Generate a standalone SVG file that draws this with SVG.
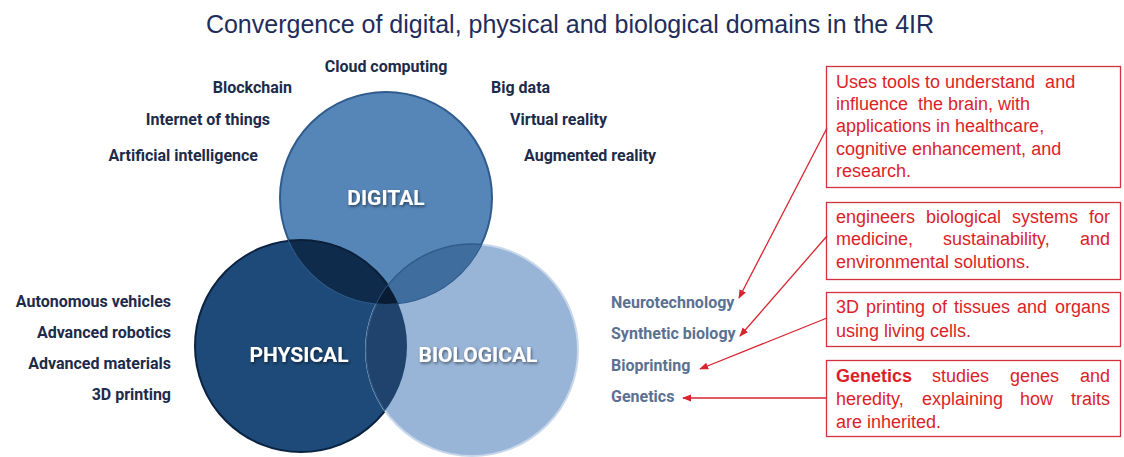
<svg xmlns="http://www.w3.org/2000/svg" width="1124" height="457" viewBox="0 0 1124 457">
<style>
.title{font-family:"Liberation Sans",Arial,sans-serif;font-size:25px;fill:#1f2d5c}
.lbl{font-family:Roboto,"Liberation Sans",sans-serif;font-weight:bold;font-size:16px;fill:#1d2b4a}
.bl{font-family:Roboto,"Liberation Sans",sans-serif;font-weight:bold;font-size:16px;fill:#5b7192}
.big{font-family:Roboto,"Liberation Sans",sans-serif;font-weight:bold;font-size:21px;fill:#ffffff;text-anchor:middle}
.box{fill:#ffffff;stroke:#d2323c;stroke-width:1.3}
.rt{font-family:"Liberation Sans",Arial,sans-serif;font-size:18px;fill:#dc1e28}
.rb{font-weight:bold}
.arr{stroke:#d8242e;stroke-width:1.3;fill:none;marker-end:url(#ah)}
</style>
<defs>
<marker id="ah" viewBox="0 0 10 10" refX="9" refY="5" markerWidth="9" markerHeight="9" markerUnits="userSpaceOnUse" orient="auto">
<path d="M0,1 L10,5 L0,9 z" fill="#d8242e"/>
</marker>
<filter id="sh" x="-20%" y="-40%" width="140%" height="180%">
<feDropShadow dx="1" dy="1.5" stdDeviation="1.5" flood-color="#000" flood-opacity="0.55"/>
</filter>
<clipPath id="cD"><circle cx="386" cy="198" r="106"/></clipPath>
<clipPath id="cP"><circle cx="301" cy="346" r="106"/></clipPath>
<clipPath id="cB"><circle cx="472" cy="350" r="106"/></clipPath>
</defs>

<text class="title" x="570" y="33" text-anchor="middle">Convergence of digital, physical and biological domains in the 4IR</text>

<g id="venn">
<circle id="physical" cx="301" cy="346" r="106" fill="#1d4a78" stroke="#0b2340" stroke-width="2"/>
<circle id="biological" cx="472" cy="350" r="106" fill="#98b5d8" stroke="#c8d8ea" stroke-width="2"/>
<circle id="digital" cx="386" cy="198" r="106" fill="#5686b8" stroke="#2f5c8c" stroke-width="2"/>
<g clip-path="url(#cP)"><circle cx="472" cy="350" r="106" fill="#1f436c" stroke="#2d5580" stroke-width="1.5"/></g>
<g clip-path="url(#cD)"><circle cx="301" cy="346" r="106" fill="#0f2b4c" stroke="#0a1f38" stroke-width="2"/></g>
<g clip-path="url(#cD)"><circle cx="472" cy="350" r="106" fill="#3e6d9e" stroke="#2f5c8c" stroke-width="1.5"/></g>
<g clip-path="url(#cD)"><g clip-path="url(#cP)"><circle cx="472" cy="350" r="106" fill="#081c33"/></g></g>
<text class="big" x="386" y="205" filter="url(#sh)">DIGITAL</text>
<text class="big" x="299" y="362" filter="url(#sh)">PHYSICAL</text>
<text class="big" x="478" y="362" filter="url(#sh)">BIOLOGICAL</text>
</g>

<g id="digital-labels">
<text class="lbl" x="386" y="72" text-anchor="middle">Cloud computing</text>
<text class="lbl" x="292" y="93" text-anchor="end">Blockchain</text>
<text class="lbl" x="270" y="125" text-anchor="end">Internet of things</text>
<text class="lbl" x="258" y="161" text-anchor="end">Artificial intelligence</text>
<text class="lbl" x="491" y="93">Big data</text>
<text class="lbl" x="510" y="125">Virtual reality</text>
<text class="lbl" x="524" y="161">Augmented reality</text>
</g>

<g id="physical-labels">
<text class="lbl" x="171" y="307" text-anchor="end">Autonomous vehicles</text>
<text class="lbl" x="171" y="338" text-anchor="end">Advanced robotics</text>
<text class="lbl" x="171" y="369" text-anchor="end">Advanced materials</text>
<text class="lbl" x="171" y="400" text-anchor="end">3D printing</text>
</g>

<g id="biological-labels">
<text class="bl" x="611" y="308">Neurotechnology</text>
<text class="bl" x="611" y="339">Synthetic biology</text>
<text class="bl" x="611" y="371">Bioprinting</text>
<text class="bl" x="611" y="402">Genetics</text>
</g>

<g id="box-neuro">
<rect class="box" x="826.5" y="66.5" width="294" height="121"/>
<text class="rt" x="836" y="88">Uses tools to understand&#160; and</text>
<text class="rt" x="836" y="110">influence&#160; the brain, with</text>
<text class="rt" x="836" y="132">applications in healthcare,</text>
<text class="rt" x="836" y="155">cognitive enhancement, and</text>
<text class="rt" x="836" y="177">research.</text>
</g>

<g id="box-synbio">
<rect class="box" x="826.5" y="202.5" width="294" height="77"/>
<text class="rt" x="836" y="223">engineers</text>
<text class="rt" x="926" y="223">biological</text>
<text class="rt" x="1012" y="223">systems</text>
<text class="rt" x="1110" y="223" text-anchor="end">for</text>
<text class="rt" x="836" y="245">medicine,</text>
<text class="rt" x="943" y="245">sustainability,</text>
<text class="rt" x="1110" y="245" text-anchor="end">and</text>
<text class="rt" x="836" y="268">environmental solutions.</text>
</g>

<g id="box-bioprint">
<rect class="box" x="826.5" y="292.5" width="294" height="54"/>
<text class="rt" x="836" y="313">3D</text>
<text class="rt" x="866" y="313">printing</text>
<text class="rt" x="932" y="313">of</text>
<text class="rt" x="954" y="313">tissues</text>
<text class="rt" x="1017" y="313">and</text>
<text class="rt" x="1110" y="313" text-anchor="end">organs</text>
<text class="rt" x="836" y="337">using living cells.</text>
</g>

<g id="box-genetics">
<rect class="box" x="826.5" y="360.5" width="294" height="76"/>
<text class="rt rb" x="836" y="382">Genetics</text>
<text class="rt" x="932" y="382">studies</text>
<text class="rt" x="1010" y="382">genes</text>
<text class="rt" x="1110" y="382" text-anchor="end">and</text>
<text class="rt" x="836" y="405">heredity,</text>
<text class="rt" x="922" y="405">explaining</text>
<text class="rt" x="1020" y="405">how</text>
<text class="rt" x="1110" y="405" text-anchor="end">traits</text>
<text class="rt" x="836" y="428">are inherited.</text>
</g>

<g id="connectors">
<line class="arr" x1="827" y1="128" x2="739" y2="298"/>
<line class="arr" x1="827" y1="236" x2="740" y2="336"/>
<line class="arr" x1="827" y1="318" x2="700" y2="369"/>
<line class="arr" x1="826" y1="398" x2="683" y2="398"/>
</g>
</svg>
